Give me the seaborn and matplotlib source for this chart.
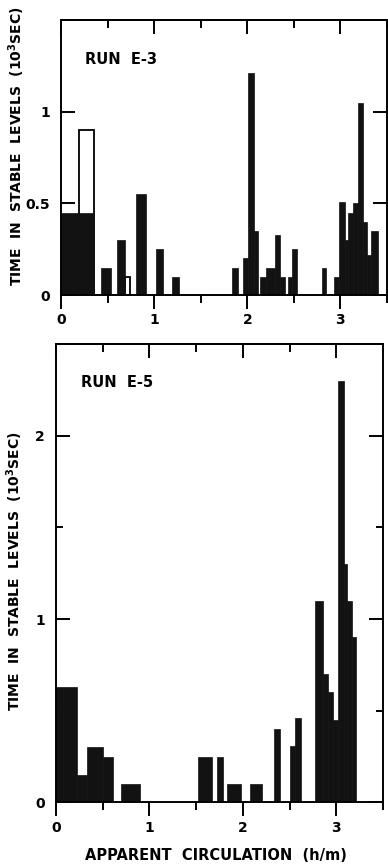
import matplotlib
matplotlib.use("Agg")
import matplotlib.pyplot as plt
import seaborn as sns

# run E-3: bin edges (apparent circulation, h/m) and time in stable levels (10^3 s)
e3_edges = [0.00, 0.35, 0.43, 0.54, 0.60, 0.69, 0.81, 0.91, 1.02, 1.09, 1.19, 1.27,
            1.84, 1.90, 1.95, 2.01, 2.07, 2.12, 2.14, 2.20, 2.30, 2.35, 2.40, 2.44,
            2.48, 2.53, 2.80, 2.85, 2.93, 2.99, 3.05, 3.08, 3.13, 3.19, 3.24, 3.29,
            3.33, 3.40]
e3_time = [0.45, 0, 0.15, 0, 0.30, 0, 0.55, 0, 0.25, 0, 0.10,
           0, 0.15, 0, 0.20, 1.21, 0.35, 0, 0.10, 0.15, 0.33, 0.10, 0,
           0.10, 0.25, 0, 0.15, 0, 0.10, 0.51, 0.30, 0.45, 0.50, 1.05, 0.40,
           0.22, 0.35]
# open (unshaded) bars in run E-3
e3_open_edges = [0.19, 0.35, 0.69, 0.74]
e3_open_time = [0.90, 0, 0.10]

# run E-5
e5_edges = [0.00, 0.22, 0.33, 0.50, 0.61, 0.70, 0.90, 1.52, 1.67, 1.72, 1.79, 1.83,
            1.98, 2.08, 2.20, 2.33, 2.40, 2.51, 2.56, 2.62, 2.77, 2.86, 2.91, 2.96,
            3.02, 3.08, 3.12, 3.17, 3.21]
e5_time = [0.63, 0.15, 0.30, 0.25, 0, 0.10, 0, 0.25, 0, 0.25, 0,
           0.10, 0, 0.10, 0, 0.40, 0, 0.31, 0.46, 0, 1.10, 0.70, 0.60,
           0.45, 2.30, 1.30, 1.10, 0.90]

x_ticks = [0, 1, 2, 3]
x_ticklabels = ["0", "1", "2", "3"]
x_minor = [0.5, 1.5, 2.5, 3.5]

sns.set_style("ticks")
plt.rcParams["font.family"] = ["DejaVu Sans"]
plt.rcParams["font.weight"] = "bold"
plt.rcParams["axes.labelweight"] = "bold"
plt.rcParams["axes.linewidth"] = 1.4
for key in ["text.color", "axes.labelcolor", "axes.edgecolor", "xtick.color", "ytick.color"]:
    plt.rcParams[key] = "black"

BAR = "#121212"
YLABEL = "TIME  IN  STABLE  LEVELS  (10$^3$SEC)"


def mids(edges):
    return [(a + b) / 2 for a, b in zip(edges[:-1], edges[1:])]


def draw_hist(ax, edges, time, fill=True):
    if fill:
        sns.histplot(x=mids(edges), weights=time, bins=edges, ax=ax,
                     color=BAR, edgecolor=BAR, linewidth=0.5, alpha=1)
    else:
        sns.histplot(x=mids(edges), weights=time, bins=edges, ax=ax,
                     fill=False, color="black", linewidth=1.3)


def style_axes(ax, ymax, yticks, yticklabels, yminor):
    ax.set_xlim(0, 3.5)
    ax.set_ylim(0, ymax)
    for s in ax.spines.values():
        s.set_visible(True)
        s.set_linewidth(1.4)
        s.set_color("black")
    ax.set_xticks(x_ticks)
    ax.set_xticklabels(x_ticklabels, fontsize=10)
    ax.set_xticks(x_minor, minor=True)
    ax.set_yticks(yticks)
    ax.set_yticklabels(yticklabels, fontsize=10)
    ax.set_yticks(yminor, minor=True)
    ax.tick_params(axis="x", which="major", direction="out", length=10, width=1.4, pad=3)
    ax.tick_params(axis="x", which="minor", direction="out", length=6, width=1.4)
    ax.tick_params(axis="y", which="major", direction="in", length=10, width=1.4,
                   right=True, pad=8)
    ax.tick_params(axis="y", which="minor", direction="in", length=5, width=1.4, right=True)
    # top ticks point inward while bottom ones point outward
    top = ax.secondary_xaxis("top")
    top.set_xticks(x_ticks)
    top.set_xticks(x_minor, minor=True)
    top.tick_params(axis="x", which="major", direction="in", length=10, width=1.4,
                    labeltop=False)
    top.tick_params(axis="x", which="minor", direction="in", length=6, width=1.4)
    top.spines["top"].set_linewidth(1.4)


fig = plt.figure(figsize=(3.88, 8.67), dpi=100)

# --- run E-3 ---
ax1 = fig.add_axes([0.1572, 0.6597, 0.8402, 0.3172])
draw_hist(ax1, e3_open_edges, e3_open_time, fill=False)
draw_hist(ax1, e3_edges, e3_time)
style_axes(ax1, 1.5, [0, 0.5, 1.0], ["0", "0.5", "1"], [])
ax1.set_xlabel("")
ax1.set_ylabel(YLABEL, fontsize=10, va="center")
ax1.yaxis.set_label_coords(-0.135, 0.54)
ax1.text(0.074, 0.855, "RUN  E-3", transform=ax1.transAxes, fontsize=10.5,
         ha="left", va="center")

# --- run E-5 ---
ax2 = fig.add_axes([0.1443, 0.0744, 0.8428, 0.5288])
draw_hist(ax2, e5_edges, e5_time)
style_axes(ax2, 2.5, [0, 1, 2], ["0", "1", "2"], [0.5, 1.5])
ax2.set_ylabel(YLABEL, fontsize=10, va="center")
ax2.yaxis.set_label_coords(-0.125, 0.505)
ax2.set_xlabel("APPARENT  CIRCULATION  (h/m)", fontsize=10.5, va="center")
ax2.xaxis.set_label_coords(0.49, -0.115)
ax2.text(0.076, 0.917, "RUN  E-5", transform=ax2.transAxes, fontsize=10.5,
         ha="left", va="center")

fig.savefig("out.png", dpi=100)
